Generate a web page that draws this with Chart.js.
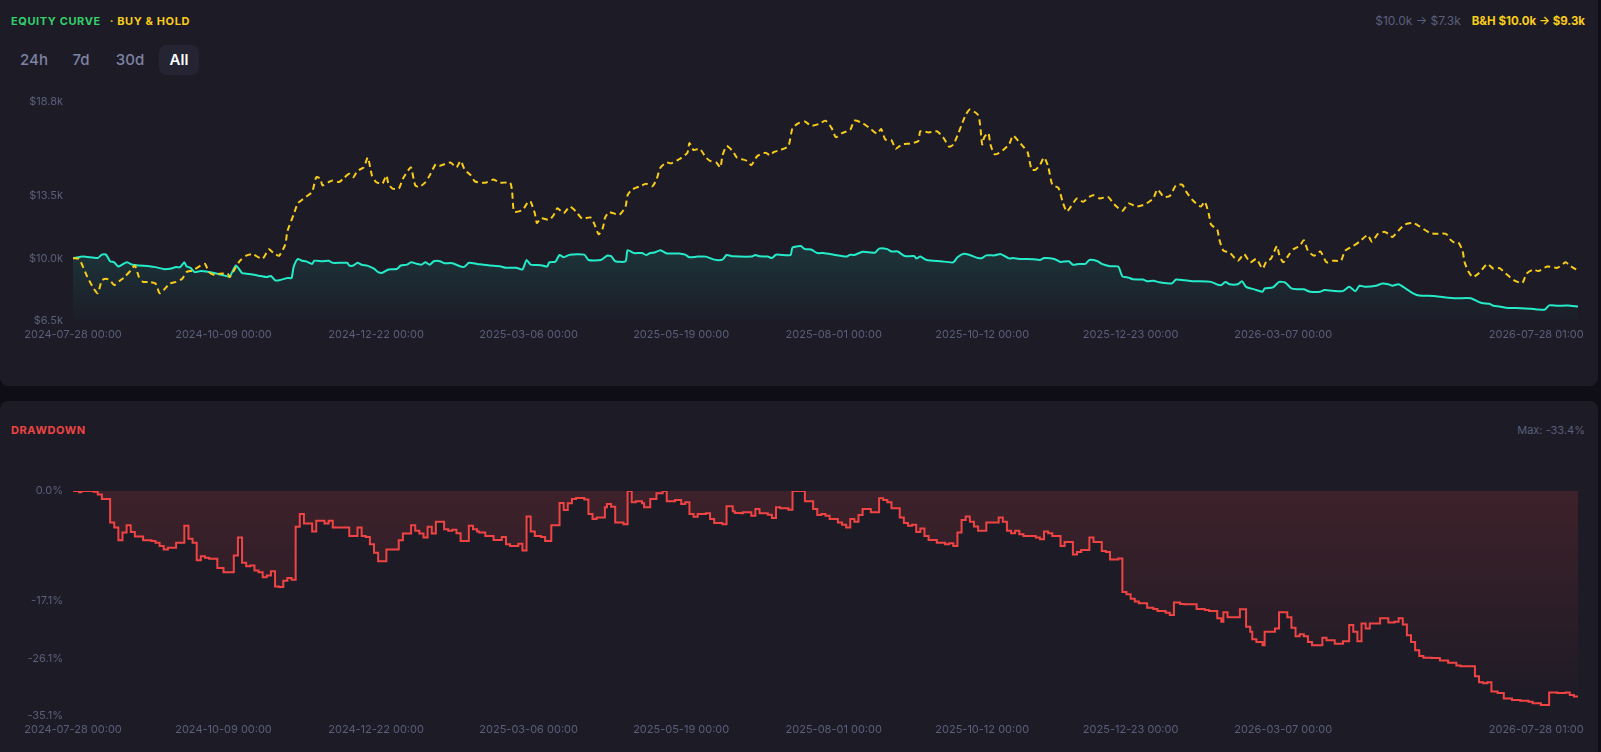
<!DOCTYPE html>
<html>
<head>
<meta charset="utf-8">
<script src="https://cdn.jsdelivr.net/npm/chart.js@4.4.1/dist/chart.umd.min.js"></script>
<style>
  html, body { margin:0; padding:0; width:1601px; height:752px; overflow:hidden; background:#0f0e16;
    font-family: Inter, "Noto Sans", sans-serif; }
  .card { position:absolute; left:0; width:1598px; background:#1c1b26; border-radius:8px; }
  #cardTop { top:-10px; height:396px; }
  #cardBot { top:401px; height:370px; }
  .lbl { position:absolute; font-size:11px; line-height:14px; white-space:nowrap; }
  .title { font-weight:700; letter-spacing:0.6px; }
  .btn { position:absolute; top:45px; height:30px; width:40px; line-height:30px; text-align:center;
    font-size:15px; font-weight:500; color:#7f83a2; border-radius:8px; }
  .btn.active { background:#252433; color:#ffffff; font-weight:600; }
  .wrap { position:absolute; left:0; width:1598px; }
</style>
</head>
<body>
<div class="card" id="cardTop"></div>
<div class="card" id="cardBot"></div>

<div class="lbl title" style="left:11px; top:14px;"><span style="color:#34d06a">EQUITY CURVE</span><span style="color:#f8cc1b; margin-left:9px">· BUY &amp; HOLD</span></div>
<div class="lbl" style="right:16px; top:14px; font-size:12px;"><span style="color:#5b5f7b">$10.0k → $7.3k</span><span style="color:#f8cc1b; font-weight:700; font-size:11.5px; margin-left:11px">B&amp;H $10.0k → $9.3k</span></div>

<div class="btn" style="left:14px">24h</div>
<div class="btn" style="left:61px">7d</div>
<div class="btn" style="left:110px">30d</div>
<div class="btn active" style="left:159px">All</div>

<div class="lbl title" style="left:11px; top:423px; color:#ef4444">DRAWDOWN</div>
<div class="lbl" style="right:16px; top:423px; color:#5b5f7b">Max: -33.4%</div>

<div class="wrap" style="top:85px; height:265px;"><canvas id="eq"></canvas></div>
<div class="wrap" style="top:470px; height:275px;"><canvas id="dd"></canvas></div>

<script>
// ---------- DATA ----------
// x tick positions: days since 2024-07-28 00:00
const tickDays   = [0, 73, 147, 221, 295, 369, 441, 513, 587, 730];
const tickLabels = ['2024-07-28 00:00','2024-10-09 00:00','2024-12-22 00:00','2025-03-06 00:00',
                    '2025-05-19 00:00','2025-08-01 00:00','2025-10-12 00:00','2025-12-23 00:00',
                    '2026-03-07 00:00','2026-07-28 01:00'];
const equityTicks = [6.5, 10.0, 13.5, 18.8];      // $k
const drawdownTicks = [-35.1, -26.1, -17.1, 0];   // %

// [day, equity $k]
const equity = [[0,10.00],[5,10.09],[12,10.01],[14,10.20],[16,10.20],[18,9.83],[20,9.77],[22,9.53],[26,9.77],[29,9.63],[32,9.59],[37,9.55],[40,9.50],[44,9.39],[47,9.41],[50,9.50],[52,9.50],[54,9.77],[55,9.55],[57,9.46],[59,9.22],[62,9.28],[66,9.22],[70,9.13],[73,9.04],[76,8.98],[79,9.59],[82,9.17],[84,9.13],[87,9.09],[91,9.00],[94,8.94],[96,9.00],[98,8.76],[100,8.76],[104,8.89],[106,8.89],[107,9.50],[109,9.96],[111,9.86],[113,9.83],[116,9.68],[117,9.86],[121,9.83],[124,9.86],[126,9.74],[133,9.74],[134,9.59],[136,9.59],[138,9.74],[140,9.63],[143,9.57],[146,9.41],[148,9.22],[150,9.18],[153,9.37],[157,9.39],[159,9.59],[162,9.64],[164,9.77],[167,9.68],[169,9.64],[171,9.77],[173,9.63],[175,9.83],[178,9.83],[180,9.72],[184,9.72],[188,9.53],[190,9.53],[192,9.74],[196,9.68],[202,9.59],[207,9.55],[210,9.46],[215,9.46],[218,9.37],[220,9.90],[222,9.64],[227,9.61],[230,9.53],[231,9.77],[234,9.81],[236,10.18],[238,10.05],[241,10.20],[248,10.20],[250,9.90],[256,9.90],[259,10.14],[261,10.12],[263,9.83],[268,9.83],[269,10.45],[272,10.29],[276,10.29],[278,10.18],[280,10.29],[282,10.32],[285,10.45],[288,10.27],[294,10.27],[297,10.20],[299,10.05],[303,10.09],[307,10.09],[311,9.92],[315,9.92],[317,10.18],[320,10.11],[329,10.09],[331,10.18],[333,10.11],[337,10.09],[339,10.01],[341,10.20],[348,10.18],[349,10.60],[353,10.68],[355,10.51],[358,10.49],[361,10.29],[364,10.29],[369,10.20],[375,10.09],[377,10.20],[379,10.18],[383,10.36],[387,10.32],[389,10.31],[391,10.54],[395,10.51],[397,10.38],[400,10.38],[403,10.14],[404,10.11],[408,10.12],[409,9.99],[411,10.09],[414,9.90],[421,9.83],[427,9.77],[429,10.05],[432,10.25],[435,10.18],[439,10.01],[441,10.01],[443,10.16],[447,10.16],[450,10.23],[454,9.99],[456,10.01],[459,9.96],[466,9.94],[469,9.90],[471,10.01],[476,9.96],[479,9.79],[483,9.83],[485,9.63],[488,9.68],[491,9.68],[493,9.90],[497,9.83],[499,9.68],[503,9.55],[507,9.53],[509,8.98],[512,8.91],[514,8.82],[519,8.80],[521,8.71],[524,8.73],[527,8.65],[533,8.58],[535,8.80],[539,8.76],[543,8.71],[552,8.67],[555,8.52],[557,8.49],[559,8.67],[561,8.54],[565,8.54],[567,8.71],[569,8.39],[573,8.25],[577,8.12],[578,8.30],[582,8.36],[585,8.67],[588,8.63],[591,8.30],[594,8.25],[597,8.25],[600,8.12],[605,8.12],[607,8.21],[611,8.17],[616,8.15],[619,8.39],[622,8.15],[624,8.45],[627,8.39],[632,8.45],[635,8.58],[638,8.54],[640,8.45],[643,8.54],[647,8.25],[650,8.03],[653,7.90],[660,7.88],[665,7.81],[671,7.75],[678,7.75],[682,7.53],[684,7.47],[687,7.44],[689,7.33],[692,7.29],[695,7.22],[700,7.20],[707,7.16],[710,7.12],[714,7.12],[716,7.35],[720,7.33],[725,7.34],[730,7.28]];

// [day, buy & hold $k]
const buyHold = [[0,10.00],[3,9.95],[7,8.94],[10,8.30],[12,8.03],[14,8.76],[16,8.85],[18,8.76],[20,8.49],[23,8.76],[25,8.94],[28,9.31],[30,9.59],[32,8.94],[34,8.67],[37,8.67],[40,8.58],[42,8.03],[44,8.21],[47,8.58],[50,8.67],[53,8.85],[55,9.22],[58,9.31],[62,9.59],[64,9.68],[66,9.22],[69,9.04],[71,9.13],[75,9.13],[76,8.94],[79,9.50],[81,9.86],[84,10.14],[87,10.23],[90,10.05],[92,9.96],[95,10.51],[96,10.42],[98,10.23],[100,10.14],[103,10.78],[104,11.52],[107,12.44],[109,13.08],[111,13.27],[113,13.45],[116,13.73],[118,14.55],[120,14.46],[121,14.09],[124,14.28],[126,14.37],[129,14.28],[131,14.46],[134,14.74],[136,14.55],[138,14.92],[141,15.10],[143,15.66],[145,14.65],[147,14.28],[150,14.18],[152,14.65],[153,14.18],[155,13.91],[158,13.91],[160,14.46],[163,15.01],[164,15.10],[166,14.09],[168,14.00],[171,14.28],[173,14.65],[176,15.29],[178,15.20],[183,15.38],[186,15.10],[188,15.47],[190,14.98],[193,14.65],[195,14.31],[200,14.24],[204,14.42],[207,14.24],[212,14.24],[213,13.73],[214,12.62],[218,12.71],[221,13.21],[222,13.17],[224,12.53],[225,11.98],[227,12.25],[231,12.16],[233,12.40],[235,12.81],[238,12.53],[241,12.90],[244,12.62],[247,12.22],[251,12.29],[253,11.89],[255,11.34],[257,11.70],[258,12.25],[260,12.59],[265,12.44],[268,12.90],[269,13.54],[271,13.85],[275,14.04],[278,14.18],[281,14.04],[283,14.42],[285,15.10],[288,15.38],[290,15.33],[294,15.56],[298,15.93],[299,16.48],[301,16.08],[304,16.15],[307,15.66],[309,15.47],[312,15.38],[314,15.10],[315,15.75],[317,16.30],[320,16.02],[322,15.66],[327,15.47],[329,15.23],[332,15.75],[336,15.93],[338,15.78],[340,15.97],[343,16.08],[347,16.30],[349,17.31],[352,17.59],[355,17.68],[358,17.44],[362,17.55],[365,17.73],[368,17.31],[370,16.80],[373,17.03],[377,17.22],[379,17.73],[383,17.59],[387,17.26],[390,17.00],[392,17.26],[394,16.67],[397,16.63],[399,16.15],[402,16.39],[406,16.45],[410,16.58],[411,17.13],[415,17.07],[419,17.13],[422,16.81],[425,16.26],[427,16.39],[429,16.89],[431,17.49],[433,18.05],[435,18.36],[439,18.05],[440,17.49],[441,16.39],[442,16.80],[444,17.03],[445,16.39],[447,15.84],[450,15.97],[454,16.39],[456,16.89],[459,16.52],[461,16.26],[463,15.97],[465,14.98],[467,14.98],[469,15.23],[471,15.66],[473,15.16],[475,14.13],[478,13.95],[480,13.17],[482,12.62],[484,12.90],[487,13.36],[490,13.17],[493,13.45],[495,13.54],[498,13.36],[502,13.45],[505,13.03],[509,12.66],[512,13.08],[516,12.90],[520,13.03],[524,13.36],[526,13.87],[529,13.45],[532,13.50],[535,14.09],[538,14.13],[540,13.73],[543,13.27],[547,12.90],[549,13.17],[551,12.44],[552,11.89],[555,11.61],[556,11.06],[558,10.42],[561,10.32],[565,9.86],[568,10.23],[571,9.77],[574,9.96],[577,9.41],[579,9.86],[581,9.96],[584,10.69],[585,10.23],[587,9.77],[590,10.23],[592,10.51],[595,10.69],[597,11.01],[599,10.42],[602,10.14],[605,10.38],[608,9.77],[611,9.86],[615,9.86],[617,10.42],[621,10.69],[624,10.93],[628,11.30],[630,10.93],[633,11.37],[636,11.48],[638,11.37],[640,11.19],[643,11.56],[646,11.89],[650,11.98],[653,11.80],[658,11.43],[661,11.37],[666,11.37],[668,11.06],[670,10.88],[672,10.88],[674,10.42],[675,9.77],[677,9.22],[679,8.94],[682,9.17],[686,9.68],[689,9.41],[692,9.44],[695,9.13],[699,8.76],[703,8.61],[705,9.13],[708,9.35],[711,9.28],[715,9.53],[720,9.46],[724,9.77],[726,9.59],[730,9.31]];

// [day, drawdown %]
const drawdown = [[0,0],[3,-0.2],[4,0],[10,-0.1],[12,-0.55],[14,-1.23],[18,-4.91],[20,-5.70],[22,-7.69],[24,-6.48],[26,-5.33],[28,-6.38],[30,-7.11],[34,-7.69],[38,-7.80],[40,-8.06],[42,-8.58],[44,-9.11],[46,-8.85],[50,-8.06],[54,-5.43],[56,-7.43],[58,-8.06],[60,-10.79],[62,-10.16],[64,-10.42],[66,-10.58],[70,-12.0],[73,-12.68],[78,-10.05],[80,-7.27],[82,-11.21],[84,-11.73],[86,-11.63],[88,-12.41],[90,-12.68],[92,-13.46],[94,-13.2],[96,-12.52],[98,-14.88],[100,-14.99],[102,-13.99],[104,-13.57],[106,-13.83],[108,-5.59],[110,-3.60],[112,-5.07],[116,-6.33],[118,-4.65],[122,-5.07],[124,-4.65],[126,-5.70],[134,-7.01],[138,-5.70],[140,-7.01],[142,-7.17],[144,-8.32],[146,-9.63],[148,-10.94],[152,-9.11],[158,-7.69],[160,-6.64],[164,-5.33],[166,-6.22],[168,-6.64],[170,-7.27],[172,-5.59],[174,-6.64],[176,-4.80],[180,-5.96],[182,-6.22],[184,-6.06],[186,-6.59],[188,-7.80],[192,-5.43],[194,-5.96],[196,-6.33],[197,-6.48],[200,-7.01],[204,-7.64],[208,-7.17],[210,-8.32],[212,-8.58],[216,-8.22],[218,-9.27],[220,-3.96],[222,-6.33],[224,-7.01],[227,-7.17],[229,-7.80],[232,-5.33],[236,-1.86],[238,-2.97],[240,-1.92],[242,-1.23],[244,-1.08],[248,-1.34],[250,-3.60],[252,-4.38],[254,-4.12],[258,-2.55],[259,-2.02],[261,-2.44],[263,-4.91],[267,-5.17],[269,0],[271,-1.76],[273,-1.60],[276,-1.92],[277,-2.55],[280,-1.23],[283,-0.34],[286,0],[288,-1.60],[292,-1.39],[295,-2.02],[297,-1.76],[299,-3.60],[301,-4.02],[303,-3.60],[307,-3.49],[309,-4.38],[311,-5.01],[315,-5.17],[317,-2.39],[320,-3.17],[321,-3.44],[324,-3.49],[325,-3.33],[329,-3.86],[331,-2.81],[333,-3.49],[337,-3.70],[339,-4.23],[341,-2.55],[343,-2.70],[347,-2.91],[349,0],[355,-1.60],[359,-2.81],[361,-3.75],[363,-3.60],[365,-3.86],[367,-4.38],[371,-4.91],[373,-5.28],[375,-5.70],[377,-4.38],[379,-4.80],[381,-3.75],[383,-2.81],[387,-3.33],[391,-1.13],[393,-1.39],[395,-1.76],[397,-2.70],[401,-4.12],[403,-5.01],[405,-5.43],[407,-5.28],[409,-6.38],[411,-5.85],[413,-7.01],[415,-7.64],[419,-8.06],[423,-8.32],[425,-8.16],[427,-8.58],[429,-6.48],[431,-4.54],[433,-3.96],[435,-4.80],[437,-5.54],[439,-6.22],[443,-4.91],[449,-4.12],[451,-4.80],[453,-6.22],[455,-6.59],[457,-6.22],[459,-6.75],[461,-7.01],[467,-7.27],[469,-7.53],[471,-6.33],[473,-6.59],[475,-7.01],[479,-8.58],[481,-7.95],[485,-9.90],[487,-9.53],[489,-9.21],[493,-7.27],[495,-7.95],[499,-9.37],[501,-9.53],[503,-10.68],[507,-10.52],[509,-15.77],[511,-16.09],[513,-16.82],[515,-17.24],[517,-17.51],[521,-18.2],[524,-18.40],[526,-18.71],[530,-18.98],[532,-19.34],[534,-17.40],[537,-17.61],[539,-17.66],[545,-18.40],[549,-18.56],[551,-18.71],[555,-19.87],[557,-20.39],[558,-18.92],[560,-19.71],[566,-18.45],[569,-21.18],[571,-21.97],[572,-23.12],[574,-23.54],[577,-24.07],[578,-21.97],[583,-21.44],[585,-18.92],[589,-19.71],[591,-21.34],[593,-22.65],[595,-22.34],[597,-22.65],[599,-23.54],[601,-24.07],[606,-22.91],[608,-23.28],[612,-23.81],[616,-23.44],[619,-20.92],[621,-21.97],[623,-23.44],[625,-20.66],[627,-21.44],[629,-20.66],[634,-19.87],[638,-20.50],[641,-20.39],[643,-19.87],[645,-20.81],[647,-22.49],[649,-23.54],[651,-24.86],[653,-25.75],[655,-26.01],[659,-26.06],[663,-26.43],[667,-26.80],[671,-27.22],[673,-27.32],[680,-28.90],[682,-29.84],[684,-30.00],[686,-29.84],[688,-31.26],[691,-31.52],[694,-32.36],[698,-32.62],[702,-32.73],[706,-32.88],[708,-33.1],[712,-33.4],[716,-31.42],[720,-31.52],[724,-31.42],[726,-31.84],[728,-32.05],[730,-32.05]];

// ---------- CHARTS ----------
const FONT = "Inter, 'Noto Sans', sans-serif";
const TICK_COLOR = '#5b5f7b';
const TICK_FONT = { family: FONT, size: 11 };
Chart.defaults.font.family = FONT;

// the last date label is drawn ending at the plot's right edge
const mc = document.createElement('canvas').getContext('2d');
mc.font = "11px " + FONT;
const lastW = mc.measureText(tickLabels[tickLabels.length - 1]).width;
const spW = mc.measureText(' ').width;
const nSpaces = Math.max(0, Math.round((lastW - 10) / spW));

const toXY = arr => arr.map(p => ({ x: p[0], y: p[1] }));

function xAxis(h, pad) {
  return {
    type: 'linear', min: 0, max: 730,
    grid: { display: false, drawTicks: false }, border: { display: false },
    afterBuildTicks: s => { s.ticks = tickDays.map(v => ({ value: v })); },
    afterFit: s => { s.paddingLeft = 0; s.paddingRight = 0; s.height = h; },
    ticks: {
      autoSkip: false, maxRotation: 0, minRotation: 0, padding: pad, font: TICK_FONT, color: TICK_COLOR,
      callback: (v, i) => i === tickDays.length - 1 ? tickLabels[i] + ' '.repeat(nSpaces) : tickLabels[i]
    }
  };
}
function yAxis(min, max, ticksArr, fmt) {
  return {
    min, max,
    grid: { display: false, drawTicks: false }, border: { display: false },
    afterBuildTicks: s => { s.ticks = ticksArr.map(v => ({ value: v })); },
    afterFit: s => { s.width = 73; },
    ticks: { padding: 10, font: TICK_FONT, color: TICK_COLOR, callback: fmt }
  };
}
function grad(stops) {
  return ctx => {
    const { chart } = ctx; const area = chart.chartArea;
    if (!area) return 'transparent';
    const g = chart.ctx.createLinearGradient(0, area.top, 0, area.bottom);
    stops.forEach(s => g.addColorStop(s[0], s[1]));
    return g;
  };
}
const common = {
  responsive: true, maintainAspectRatio: false, animation: false,
  plugins: { legend: { display: false }, tooltip: { enabled: false } },
  elements: { point: { radius: 0 } }
};

new Chart(document.getElementById('eq'), {
  type: 'line',
  data: { datasets: [
    { label: 'Buy & Hold', data: toXY(buyHold), borderColor: '#f8cc1b', borderWidth: 2,
      borderDash: [6, 4], tension: 0.2, fill: false, pointRadius: 0 },
    { label: 'Equity', data: toXY(equity), borderColor: '#25ebc9', borderWidth: 2, tension: 0.2,
      pointRadius: 0, fill: 'start',
      backgroundColor: grad([[0, 'rgba(37,235,201,0.22)'], [0.65, 'rgba(37,235,201,0.13)'], [1, 'rgba(37,235,201,0.01)']]) }
  ]},
  options: Object.assign({}, common, {
    layout: { padding: { top: 9, right: 20, bottom: 0, left: 0 } },
    scales: {
      x: xAxis(29.5, 8),
      y: yAxis(6.5, 18.8, equityTicks, v => '$' + v.toFixed(1) + 'k')
    }
  })
});

new Chart(document.getElementById('dd'), {
  type: 'line',
  data: { datasets: [
    { label: 'Drawdown', data: toXY(drawdown), borderColor: '#f04444', borderWidth: 2, stepped: true,
      pointRadius: 0, fill: 'origin',
      backgroundColor: grad([[0, 'rgba(240,68,68,0.16)'], [1, 'rgba(240,68,68,0.0)']]) }
  ]},
  options: Object.assign({}, common, {
    layout: { padding: { top: 21, right: 20, bottom: 0, left: 0 } },
    scales: {
      x: xAxis(29, 7),
      y: yAxis(-35.1, 0, drawdownTicks, v => v.toFixed(1) + '%')
    }
  })
});
</script>
</body>
</html>
